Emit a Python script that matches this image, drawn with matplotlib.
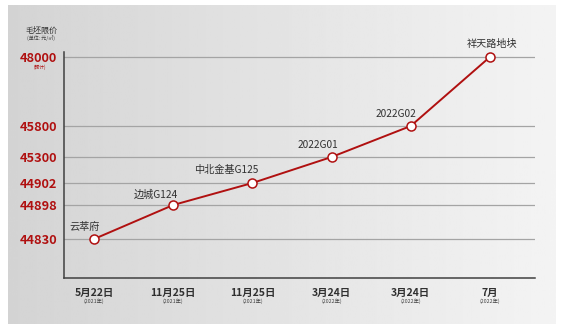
import numpy as np
import matplotlib
matplotlib.use("Agg")
import matplotlib.pyplot as plt
from matplotlib.transforms import blended_transform_factory

plt.rcParams['font.family'] = ['Noto Sans CJK SC', 'DejaVu Sans']

# ---- data ----
categories = ['云萃府', '边城G124', '中北金基G125', '2022G01', '2022G02', '祥天路地块']
prices = [44830, 44898, 44902, 45300, 45800, 48000]
dates = ['5月22日', '11月25日', '11月25日', '3月24日', '3月24日', '7月']
years = ['(2021年)', '(2021年)', '(2021年)', '(2022年)', '(2022年)', '(2022年)']
ytick_vals = [44830, 44898, 44902, 45300, 45800, 48000]

# ---- non-linear (categorical-like) y scale anchors: value -> position ----
anchor_vals = [44700, 44830, 44898, 44902, 45300, 45800, 48000, 48200]
anchor_pos = [0, 39, 73, 95, 121, 152, 221, 226]

def fwd(v):
    return np.interp(v, anchor_vals, anchor_pos)

def inv(p):
    return np.interp(p, anchor_pos, anchor_vals)

W, H = 563, 332
fig = plt.figure(figsize=(W / 100, H / 100), dpi=100)
fig.patch.set_facecolor('white')

# background panel with horizontal gradient
bg = fig.add_axes([8 / W, 1 - 324 / H, (556 - 8) / W, (324 - 5) / H])
grad = np.linspace(0.83, 0.955, 256).reshape(1, -1)
bg.imshow(grad, aspect='auto', cmap='gray', vmin=0, vmax=1, extent=[0, 1, 0, 1])
bg.set_axis_off()

L, R, T, B = 64, 535, 52, 278
ax = fig.add_axes([L / W, 1 - B / H, (R - L) / W, (B - T) / H])
ax.patch.set_alpha(0)
ax.set_yscale('function', functions=(fwd, inv))
ax.set_ylim(44700, 48200)
x = np.arange(len(categories))
ax.set_xlim(-0.38, 5.57)

red = '#b01010'
for v in ytick_vals:
    ax.axhline(v, color='#a4a4a4', lw=0.9, zorder=1)

ax.plot(x, prices, color=red, lw=1.4, marker='o', ms=6.5, mfc='white',
        mec=red, mew=1.1, zorder=3, clip_on=False)

offsets = [(-10, 12), (-17, 10), (-26, 13), (-14, 12), (-15, 12), (2, 13)]
for xi, yi, lab, off in zip(x, prices, categories, offsets):
    ax.annotate(lab, (xi, yi), xytext=off, textcoords='offset pixels',
                ha='center', va='center', fontsize=7.3, color='#303030')

for s in ['top', 'right']:
    ax.spines[s].set_visible(False)
ax.spines['left'].set_color('#404040')
ax.spines['bottom'].set_color('#404040')
ax.spines['left'].set_linewidth(1.1)
ax.spines['bottom'].set_linewidth(1.1)

ax.set_yticks(ytick_vals)
ax.set_yticklabels([str(v) for v in ytick_vals], color=red, fontsize=9.2,
                   fontweight='bold')
ax.yaxis.set_minor_locator(plt.NullLocator())
ax.tick_params(axis='y', length=0, pad=5)

ax.set_xticks(x)
ax.set_xticklabels(dates, fontsize=7.5, fontweight='bold', color='#303030')
ax.tick_params(axis='x', length=0, pad=7)

tr = blended_transform_factory(ax.transData, fig.transFigure)
for xi, yr in zip(x, years):
    ax.text(xi, 1 - 301.5 / H, yr, transform=tr, ha='center', va='center',
            fontsize=3.8, color='#404040')

fig.text(41 / W, 1 - 30 / H, '毛坯限价', ha='center', va='center',
         fontsize=5.8, color='#303030')
fig.text(41 / W, 1 - 38.5 / H, '(单位: 元/㎡)', ha='center', va='center',
         fontsize=3.6, color='#404040')
fig.text(40 / W, 1 - 67 / H, '(预计)', ha='center', va='center',
         fontsize=3.4, color=red)

fig.savefig('out.png', dpi=100, facecolor='white')
